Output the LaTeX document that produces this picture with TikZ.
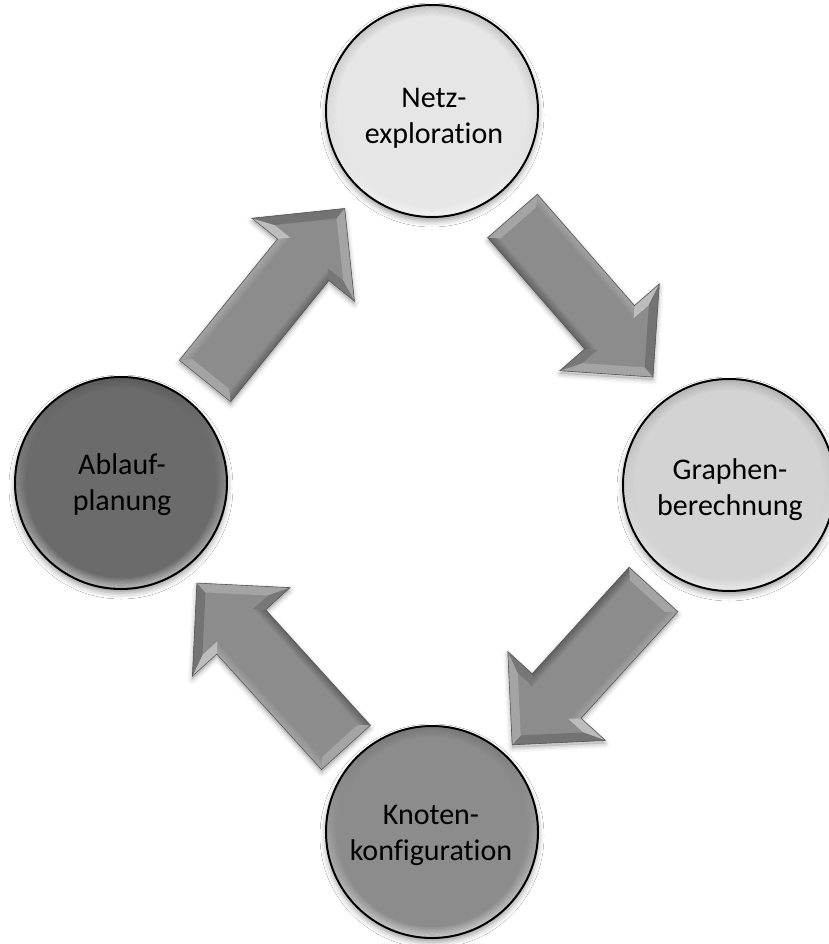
\documentclass[tikz,border=0pt]{standalone}
\usepackage{fontspec}
\setmainfont{Carlito}[Ligatures={NoCommon}]
\usetikzlibrary{shadows.blur,fadings}

\definecolor{faceN}{HTML}{E6E6E6}
\definecolor{faceG}{HTML}{D3D3D3}
\definecolor{faceK}{HTML}{8C8C8C}
\definecolor{faceA}{HTML}{6B6B6B}
\definecolor{arrowface}{HTML}{8C8C8C}
\definecolor{arrowlight}{HTML}{F4F4F4}
\definecolor{arrowmid}{HTML}{A4A4A4}
\definecolor{arrowdark}{HTML}{626262}
\definecolor{arrowedge}{HTML}{585858}

\tikzset{
  phase/.style={circle, minimum size=212pt, inner sep=0pt, draw=black, line width=2pt,
    blur shadow={shadow xshift=0pt, shadow yshift=-4pt, shadow blur radius=6pt, shadow opacity=40}},
  phaselabel/.style={align=center, font=\fontsize{30}{36}\selectfont, text=black, inner sep=0pt},
}

% Bevelled block arrow: #1 tail centre, #2 direction (degrees), #3 length.
% Local frame: arrow points along +x, shaft half width 33, head half width 66.
\newcommand\bevelarrow[3]{%
  \pgfmathsetmacro\arL{#3}%
  \pgfmathsetmacro\arB{#3-66}%
  \pgfmathsetmacro\arI{#3-57}%
  \pgfmathsetmacro\arT{#3-12.73}%
  \begin{scope}[transform canvas={shift={#1}, yshift=-3pt, rotate=#2}]
    \foreach \w/\o in {9/0.035, 6/0.045, 3/0.06}
      \draw[black, opacity=\o, line width=\w pt, line join=round]
        (0,-33) -- (\arB,-33) -- (\arB,-66) -- (\arL,0) -- (\arB,66) -- (\arB,33) -- (0,33) -- cycle;
    \fill[black, opacity=0.12]
      (0,-33) -- (\arB,-33) -- (\arB,-66) -- (\arL,0) -- (\arB,66) -- (\arB,33) -- (0,33) -- cycle;
  \end{scope}
  \begin{scope}[transform canvas={shift={#1}, rotate=#2}]
    % flat top face
    \fill[arrowface]
      (0,-33) -- (\arB,-33) -- (\arB,-66) -- (\arL,0) -- (\arB,66) -- (\arB,33) -- (0,33) -- cycle;
    % bevel facets
    \fill[arrowmid] (0,33) -- (0,-33) -- (9,-24) -- (9,24) -- cycle;
    \shade[top color=arrowmid, middle color=arrowlight, bottom color=arrowface]
      (0,-33) -- (\arB,-33) -- (\arI,-24) -- (9,-24) -- cycle;
    \fill[arrowmid!70!arrowlight] (\arB,-33) -- (\arB,-66) -- (\arI,-44.27) -- (\arI,-24) -- cycle;
    \fill[arrowdark!60!arrowface] (\arB,-66) -- (\arL,0) -- (\arT,0) -- (\arI,-44.27) -- cycle;
    \fill[arrowmid] (\arL,0) -- (\arB,66) -- (\arI,44.27) -- (\arT,0) -- cycle;
    \fill[arrowface!85!black] (\arB,66) -- (\arB,33) -- (\arI,24) -- (\arI,44.27) -- cycle;
    \shade[top color=arrowface, bottom color=arrowdark]
      (\arB,33) -- (0,33) -- (9,24) -- (\arI,24) -- cycle;
    \draw[arrowedge, line width=0.6pt]
      (0,-33) -- (\arB,-33) -- (\arB,-66) -- (\arL,0) -- (\arB,66) -- (\arB,33) -- (0,33) -- cycle;
  \end{scope}}

\begin{document}
\begin{tikzpicture}[x=1pt, y=-1pt]
  \useasboundingbox[fill=white] (0,0) rectangle (828,944);

  % the four phases
  \node[phase, fill=faceN] (N) at (432,111) {};
  \node[phase, fill=faceG] (G) at (729,485) {};
  \node[phase, fill=faceK] (K) at (432,832) {};
  \node[phase, fill=faceA] (A) at (121,483) {};

  % soft rim lighting on the discs: light from above, shade below
  \foreach \c in {N,G,K,A} {
    \foreach \i in {0,...,7} {
      \draw[white, line width=1.3pt, draw opacity={0.45*(1-\i/8)}, path fading=north]
        (\c.center) circle[radius={104.2pt-\i*1.2pt}];
      \draw[black, line width=1.3pt, draw opacity={0.12*(1-\i/8)}, path fading=south]
        (\c.center) circle[radius={104.2pt-\i*1.2pt}];
    }
  }

  \node[phaselabel] (N-t) at (434,118.5) {Netz-\\exploration};
  \node[phaselabel] (G-t) at (730,490) {Graphen-\\berechnung};
  \node[phaselabel] (K-t) at (431,835) {Knoten-\\konfiguration};
  \node[phaselabel] (A-t) at (122,485) {Ablauf-\\planung};

  % block arrows of the cycle
  \bevelarrow{(205,381)}{51}{222}
  \bevelarrow{(512.5,216)}{-48.9}{213.7}
  \bevelarrow{(653.5,589.5)}{-132.3}{210}
  \bevelarrow{(346,747.5)}{132.2}{222}
\end{tikzpicture}
\end{document}
